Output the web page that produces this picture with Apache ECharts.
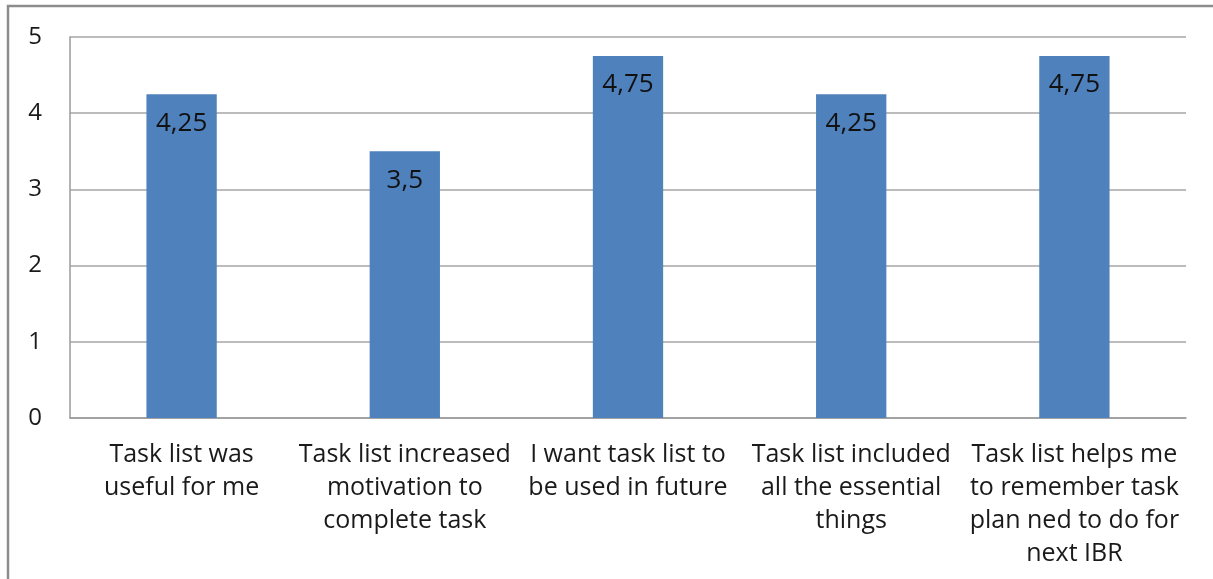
<!DOCTYPE html>
<html>
<head>
<meta charset="utf-8">
<script src="https://cdn.jsdelivr.net/npm/echarts@6/dist/echarts.min.js"></script>
<style>
  html, body { margin: 0; padding: 0; background: #fff; }
  #chart { width: 1213px; height: 579px; }
</style>
</head>
<body>
<div id="chart"></div>
<script>
// Survey statements (line breaks as wrapped under the axis)
const categories = [
  'Task list was\nuseful for me',
  'Task list increased\nmotivation to\ncomplete task',
  'I want task list to\nbe used in future',
  'Task list included\nall the essential\nthings',
  'Task list helps me\nto remember task\nplan ned to do for\nnext IBR'
];
// Mean agreement score per statement
const scores = [4.25, 3.5, 4.75, 4.25, 4.75];
const yTicks = [0, 1, 2, 3, 4, 5];

const FONT = '"Open Sans", sans-serif';
const chart = echarts.init(document.getElementById('chart'));

chart.setOption({
  backgroundColor: '#ffffff',
  animation: false,
  graphic: [{
    type: 'rect',
    shape: { x: 8, y: 6, width: 1240, height: 620 },
    style: { fill: 'none', stroke: '#8c8c8c', lineWidth: 2.5 },
    silent: true,
    z: -1
  }],
  grid: { left: 70, right: 27, top: 37, bottom: 161 },
  xAxis: {
    type: 'category',
    data: categories,
    axisLine: { lineStyle: { color: '#9a9a9a', width: 1.5 } },
    axisTick: { show: false },
    axisLabel: {
      interval: 0,
      margin: 20,
      color: '#1a1a1a',
      fontFamily: FONT,
      fontSize: 25,
      lineHeight: 33,
      align: 'center'
    }
  },
  yAxis: {
    type: 'value',
    min: yTicks[0],
    max: yTicks[yTicks.length - 1],
    interval: 1,
    axisLine: { show: true, lineStyle: { color: '#9a9a9a', width: 1.5 } },
    axisTick: { show: false },
    splitLine: { lineStyle: { color: '#a6a6a6', width: 1.5 } },
    axisLabel: {
      margin: 28,
      color: '#1a1a1a',
      fontFamily: FONT,
      fontSize: 24
    }
  },
  series: [{
    type: 'bar',
    data: scores,
    barWidth: '31.5%',
    itemStyle: { color: '#4f81bd' },
    label: {
      show: true,
      position: 'insideTop',
      distance: 16,
      color: '#111',
      fontFamily: FONT,
      fontSize: 26,
      formatter: p => String(p.value).replace('.', ',')
    }
  }]
});
</script>
</body>
</html>
